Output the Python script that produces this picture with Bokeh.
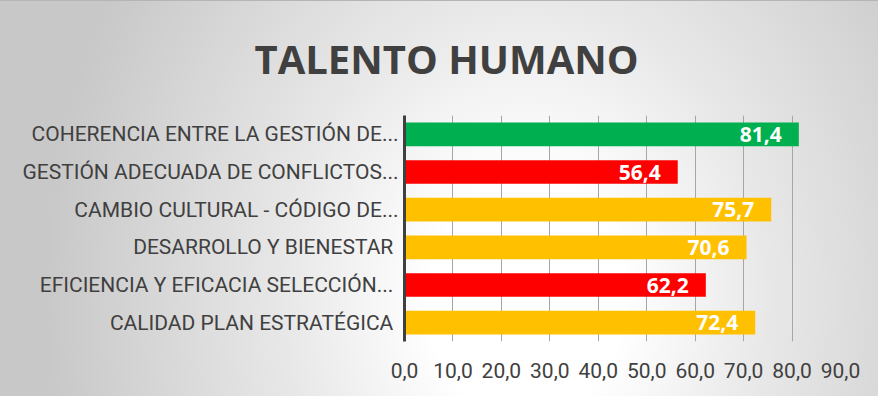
from bokeh.plotting import figure
from bokeh.models import FactorRange, Range1d, FixedTicker, ColumnDataSource
from bokeh.core.properties import value
from bokeh.embed import file_html
from bokeh.resources import INLINE

title_text = "TALENTO HUMANO"
categories = [
    "COHERENCIA ENTRE LA GESTIÓN DE...",
    "GESTIÓN ADECUADA DE CONFLICTOS...",
    "CAMBIO CULTURAL - CÓDIGO DE...",
    "DESARROLLO Y BIENESTAR ",
    "EFICIENCIA Y EFICACIA  SELECCIÓN...",
    "CALIDAD PLAN ESTRATÉGICA ",
]
values = [81.4, 56.4, 75.7, 70.6, 62.2, 72.4]
bar_colors = ["#00B050", "#FF0000", "#FFC000", "#FFC000", "#FF0000", "#FFC000"]
x_ticks = [0, 10, 20, 30, 40, 50, 60, 70, 80, 90]
x_tick_labels = ["0,0", "10,0", "20,0", "30,0", "40,0", "50,0", "60,0", "70,0", "80,0", "90,0"]

labels = [f"{v:.1f}".replace(".", ",") for v in values]
source = ColumnDataSource(dict(cat=categories, val=values, color=bar_colors, lbl=labels))

TEXT = "#404040"

p = figure(
    width=878, height=396,
    y_range=FactorRange(factors=list(reversed(categories))),
    x_range=Range1d(0, 90),
    output_backend="svg", toolbar_location=None,
    min_border_left=404, min_border_right=38, min_border_top=113, min_border_bottom=55,
    title=title_text,
    styles={
        "background": "radial-gradient(ellipse 55% 150% at 60% 75%, #ffffff 0%, #ffffff 20%, #e8e8e8 50%, #c8c8c8 100%)",
        "box-shadow": "inset 0 1px 0 #b5b5b5",
    },
)
p.background_fill_color = None
p.border_fill_color = None
p.outline_line_color = None

p.title.align = "left"
p.title.offset = -150
p.title.standoff = 58
p.title.vertical_align = "middle"
p.title.text_color = TEXT
p.title.text_font = "Open Sans"
p.title.text_font_style = "bold"
p.title.text_font_size = "40px"

p.hbar(y="cat", right="val", left=0, height=0.63, color="color", line_color=None, source=source)

p.text(x="val", y="cat", text="lbl", source=source, x_offset=-17,
       text_align="right", text_baseline="middle", text_color="white",
       text_font=value("Open Sans"), text_font_style="bold", text_font_size="21px")

# x axis
xa = p.xaxis[0]
xa.ticker = FixedTicker(ticks=x_ticks)
xa.major_label_overrides = {t: l for t, l in zip(x_ticks, x_tick_labels)}
xa.axis_line_color = None
xa.major_tick_line_color = None
xa.minor_tick_line_color = None
xa.major_label_standoff = 15
xa.major_label_text_color = TEXT
xa.major_label_text_font = "Roboto"
xa.major_label_text_font_size = "21px"

# y axis
ya = p.yaxis[0]
ya.axis_line_color = "#404040"
ya.axis_line_width = 3
ya.major_tick_line_color = None
ya.minor_tick_line_color = None
ya.major_label_standoff = 0
ya.major_label_text_color = TEXT
ya.major_label_text_font = "Roboto"
ya.major_label_text_font_size = "21px"

p.xgrid.grid_line_color = "#a6a6a6"
p.xgrid.grid_line_width = 1
p.ygrid.grid_line_color = None

open("out.html", "w").write(file_html(p, INLINE))
